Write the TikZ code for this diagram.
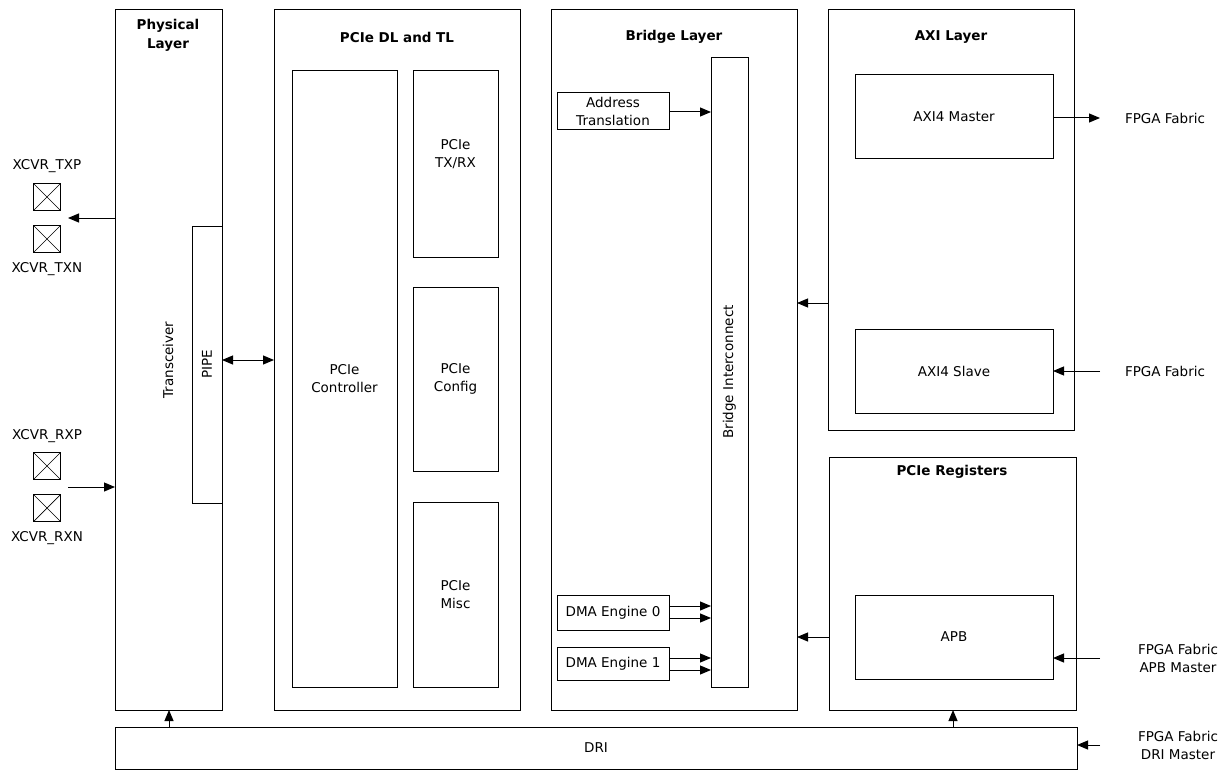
\documentclass[tikz,border=0pt]{standalone}
\usepackage{fontspec}
\setmainfont{DejaVu Sans}
\usetikzlibrary{arrows.meta}
\begin{document}
\begin{tikzpicture}[x=1pt,y=-1pt,
  every node/.style={font=\fontsize{13.5}{18}\selectfont, inner sep=0pt, outer sep=0pt},
  blk/.style={draw, line width=1pt, anchor=north west, align=center},
  ttl/.style={font=\fontsize{13.5}{19}\selectfont\bfseries, align=center},
  lbl/.style={align=center},
  arr/.style={line width=1pt, -{Triangle[length=11pt,width=9pt]}},
  darr/.style={line width=1pt, {Triangle[length=11pt,width=9pt]}-{Triangle[length=11pt,width=9pt]}},
  pin/.style={draw, line width=0.8pt, minimum size=27pt, path picture={
     \draw[line width=0.7pt] (path picture bounding box.north west) -- (path picture bounding box.south east)
       (path picture bounding box.north east) -- (path picture bounding box.south west);}}
]
\useasboundingbox (0,0) rectangle (1228,770);

% Physical layer
\node[blk, minimum width=107pt, minimum height=700pt] (phy) at (115,10) {};
\node[ttl] (phyt) at (168,35) {Physical\\Layer};
\node[blk, minimum width=30pt, minimum height=277pt] (pipe) at (192,226) {};
\node[rotate=90] (pipet) at (207,364) {PIPE};
\node[rotate=90] (trx) at (168,360) {Transceiver};

% PCIe DL and TL
\node[blk, minimum width=246pt, minimum height=700pt] (dl) at (274,10) {};
\node[ttl] (dlt) at (397,37) {PCIe DL and TL};
\node[blk, minimum width=105pt, minimum height=616pt] (ctrl) at (292,71) {PCIe\\Controller};
\node[blk, minimum width=85pt, minimum height=186pt] (txrx) at (413,71) {};
\node[lbl] (txrxt) at (455.5,154) {PCIe\\TX/RX};
\node[blk, minimum width=85pt, minimum height=184pt] (cfg) at (413,287) {PCIe\\Config};
\node[blk, minimum width=85pt, minimum height=185pt] (misc) at (413,502) {PCIe\\Misc};

% Bridge layer
\node[blk, minimum width=246pt, minimum height=700pt] (br) at (551,10) {};
\node[ttl] (brt) at (674,37) {Bridge Layer};
\node[blk, minimum width=37pt, minimum height=629pt] (bi) at (711,58) {};
\node[rotate=90] (bit) at (729.5,372) {Bridge Interconnect};
\node[blk, minimum width=112pt, minimum height=37pt] (addr) at (557,93) {Address\\Translation};
\node[blk, minimum width=112pt, minimum height=35pt] (dma0) at (557,595) {DMA Engine 0};
\node[blk, minimum width=112pt, minimum height=33pt] (dma1) at (557,647) {DMA Engine 1};

% AXI layer
\node[blk, minimum width=246pt, minimum height=420pt] (axi) at (828,10) {};
\node[ttl] (axit) at (951,37) {AXI Layer};
\node[blk, minimum width=198pt, minimum height=84pt] (mst) at (855,75) {AXI4 Master};
\node[blk, minimum width=198pt, minimum height=84pt] (slv) at (855,329) {AXI4 Slave};

% PCIe registers
\node[blk, minimum width=247pt, minimum height=253pt] (reg) at (829,457) {};
\node[ttl] (regt) at (952,472) {PCIe Registers};
\node[blk, minimum width=198pt, minimum height=84pt] (apb) at (855,595) {APB};

% DRI
\node[blk, minimum width=962pt, minimum height=42pt] (dri) at (115,727) {DRI};

% pins
\node[lbl] (txpl) at (47,166) {XCVR\_TXP};
\node[pin] (txp) at (47,197) {};
\node[pin] (txn) at (47,239) {};
\node[lbl] (txnl) at (47,269) {XCVR\_TXN};
\node[lbl] (rxpl) at (47,436) {XCVR\_RXP};
\node[pin] (rxp) at (47,466) {};
\node[pin] (rxn) at (47,508) {};
\node[lbl] (rxnl) at (47,538) {XCVR\_RXN};

% right labels
\node[lbl] (ff1) at (1165,118) {FPGA Fabric};
\node[lbl] (ff2) at (1165,371) {FPGA Fabric};
\node[lbl] (ff3) at (1178,658) {FPGA Fabric\\APB Master};
\node[lbl] (ff4) at (1178,745) {FPGA Fabric\\DRI Master};

% free-end coordinates
\coordinate (txend) at (68,218);
\coordinate (rxst) at (68,487);
\coordinate (o1) at (1100,118);
\coordinate (i2) at (1100,371);
\coordinate (i3) at (1100,658);
\coordinate (i4) at (1100,745);

% connectors
\draw[arr] (phy.west |- txend) -- (txend);
\draw[arr] (rxst) -- (phy.west |- rxst);
\draw[darr] (pipe.east |- 0,360) -- (dl.west |- 0,360);
\draw[arr] (addr.east |- 0,112) -- (bi.west |- 0,112);
\draw[arr] (dma0.east |- 0,606) -- (bi.west |- 0,606);
\draw[arr] (dma0.east |- 0,618) -- (bi.west |- 0,618);
\draw[arr] (dma1.east |- 0,658) -- (bi.west |- 0,658);
\draw[arr] (dma1.east |- 0,670) -- (bi.west |- 0,670);
\draw[arr] (axi.west |- 0,303) -- (br.east |- 0,303);
\draw[arr] (reg.west |- 0,637) -- (br.east |- 0,637);
\draw[arr] (mst.east |- o1) -- (o1);
\draw[arr] (i2) -- (slv.east |- i2);
\draw[arr] (i3) -- (apb.east |- i3);
\draw[arr] (i4) -- (dri.east |- i4);
\draw[arr] (dri.north -| 169,0) -- (phy.south -| 169,0);
\draw[arr] (dri.north -| 953,0) -- (reg.south -| 953,0);
\end{tikzpicture}
\end{document}
